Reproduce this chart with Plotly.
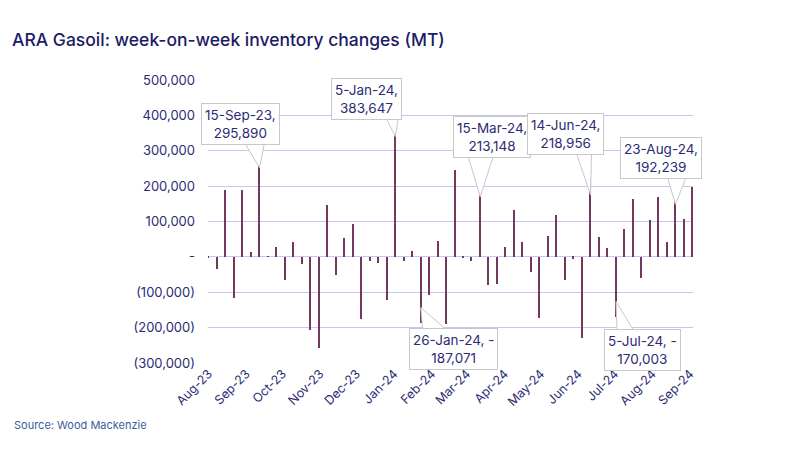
import plotly.graph_objects as go
import pandas as pd

# ---- data ----
week_dates = [
    "2023-08-04", "2023-08-11", "2023-08-18", "2023-08-25", "2023-09-01", "2023-09-08",
    "2023-09-15", "2023-09-22", "2023-09-29", "2023-10-06", "2023-10-13", "2023-10-20",
    "2023-10-27", "2023-11-03", "2023-11-10", "2023-11-17", "2023-11-24", "2023-12-01",
    "2023-12-08", "2023-12-15", "2023-12-22", "2023-12-29", "2024-01-05", "2024-01-12",
    "2024-01-19", "2024-01-26", "2024-02-02", "2024-02-09", "2024-02-16", "2024-02-23",
    "2024-03-01", "2024-03-08", "2024-03-15", "2024-03-22", "2024-03-29", "2024-04-05",
    "2024-04-12", "2024-04-19", "2024-04-26", "2024-05-03", "2024-05-10", "2024-05-17",
    "2024-05-24", "2024-05-31", "2024-06-07", "2024-06-14", "2024-06-21", "2024-06-28",
    "2024-07-05", "2024-07-12", "2024-07-19", "2024-07-26", "2024-08-02", "2024-08-09",
    "2024-08-16", "2024-08-23", "2024-08-30", "2024-09-06",
]
inventory_change = [
    -4000, -35000, 190000, -115000, 188000, 14000,
    295890, 2000, 29000, -66000, 41000, -21000,
    -206000, -258000, 146000, -50000, 52000, 94000,
    -175000, -11000, -16000, -121000, 383647, -11000,
    16000, -187071, -107000, 44000, -191000, 245000,
    -4000, -12000, 213148, -79000, -77000, 28000,
    132000, 43000, -42000, -173000, 58000, 118000,
    -64000, -5000, -230000, 218956, 55000, 24000,
    -170003, 78000, 165000, -60000, 104000, 170000,
    41000, 192239, 107000, 198000,
]
month_tick_dates = [
    "2023-08-04", "2023-09-04", "2023-10-04", "2023-11-04", "2023-12-04", "2024-01-04",
    "2024-02-04", "2024-03-04", "2024-04-04", "2024-05-04", "2024-06-04", "2024-07-04",
    "2024-08-04", "2024-09-04",
]
month_tick_labels = ["Aug-23", "Sep-23", "Oct-23", "Nov-23", "Dec-23", "Jan-24", "Feb-24",
                     "Mar-24", "Apr-24", "May-24", "Jun-24", "Jul-24", "Aug-24", "Sep-24"]
y_tick_values = [500000, 400000, 300000, 200000, 100000, 0, -100000, -200000, -300000]
y_tick_labels = ["500,000", "400,000", "300,000", "200,000", "100,000", "-",
                 "(100,000)", "(200,000)", "(300,000)"]
callout_dates = ["2023-09-15", "2024-01-05", "2024-01-26", "2024-03-15",
                 "2024-06-14", "2024-07-05", "2024-08-23"]

# ---- styles ----
# (box centre x offset px, box centre y offset px (up positive), tail base x1, x2)
callout_style = [
    (-19, 28.5, -15, 5),
    (-29, 22, -9, 3),
    (33, -26, 2, 26),
    (12, 44, -12, 13),
    (-25, 45, -14, 1),
    (26, -33, 1, 18),
    (-14, 31, -8, 11),
]
BOX_HALF_H = 20
TIP = 15.5

NAVY = "#1b1b66"
TICK_NAVY = "#2c2c74"
GRID = "#c6c6f6"
BAR = "#73385e"
FONT = "Inter"

dates = pd.to_datetime(week_dates)
fig = go.Figure()
fig.add_trace(go.Bar(
    x=dates, y=inventory_change,
    width=1.2 * 86400000,
    marker=dict(color=BAR, line=dict(width=0)),
    hoverinfo="x+y",
))

val_by_date = dict(zip(week_dates, inventory_change))
for d, (dx, dy, bx1, bx2) in zip(callout_dates, callout_style):
    v = val_by_date[d]
    dt = pd.Timestamp(d)
    label_date = f"{dt.day}-{dt.strftime('%b-%y')},"
    if v < 0:
        text = f"{label_date} -<br>{abs(v):,}"
    else:
        text = f"{label_date}<br>{v:,}"
    sign = 1 if v >= 0 else -1
    base_y = dy - sign * (BOX_HALF_H - 1)
    tip_y = -sign * TIP
    path = f"M {bx1},{base_y} L 0,{tip_y} L {bx2},{base_y} Z"
    fig.add_shape(
        type="path", xref="x", yref="y", xsizemode="pixel", ysizemode="pixel",
        xanchor=dt, yanchor=v, path=path,
        fillcolor="white", line=dict(color="#c8c8c8", width=1), layer="above",
    )
    fig.add_annotation(
        x=dt, y=v, xref="x", yref="y", text=text, showarrow=False,
        xshift=dx, yshift=dy, xanchor="center", yanchor="middle",
        bgcolor="white", bordercolor="#c8c8c8", borderwidth=1, borderpad=3,
        font=dict(family=FONT, size=13.5, color=TICK_NAVY), align="center",
    )

fig.update_layout(
    width=800, height=450,
    paper_bgcolor="white", plot_bgcolor="white",
    margin=dict(l=200, r=115, t=72, b=95),
    showlegend=False,
    bargap=0,
    title=dict(text="ARA Gasoil: week-on-week inventory changes (MT)",
               x=0.005, xanchor="left", y=0.929, yanchor="middle",
               font=dict(family=FONT, size=17.5, color=NAVY, weight=500)),
    font=dict(family=FONT, color=TICK_NAVY),
)
fig.update_xaxes(
    type="date",
    range=["2023-08-03 12:00", "2024-09-06 12:00"],
    tickvals=pd.to_datetime(month_tick_dates), ticktext=month_tick_labels,
    tickangle=-45, tickfont=dict(family=FONT, size=12.5, color=TICK_NAVY),
    showgrid=False, zeroline=False, showline=False, ticks="",
)
fig.update_yaxes(
    range=[-300000, 500000],
    tickvals=y_tick_values, ticktext=y_tick_labels,
    tickfont=dict(family=FONT, size=13, color=TICK_NAVY),
    showgrid=True, gridcolor=GRID, gridwidth=1.3,
    zeroline=True, zerolinecolor=GRID, zerolinewidth=1.3,
    showline=False, ticks="", ticklabelstandoff=12,
)
fig.add_annotation(
    text="Source: Wood Mackenzie", xref="paper", yref="paper",
    x=-0.404, y=-0.219, xanchor="left", yanchor="middle", showarrow=False,
    font=dict(family=FONT, size=11, color="#3d5c9e"),
)
fig.write_html("out.html")
